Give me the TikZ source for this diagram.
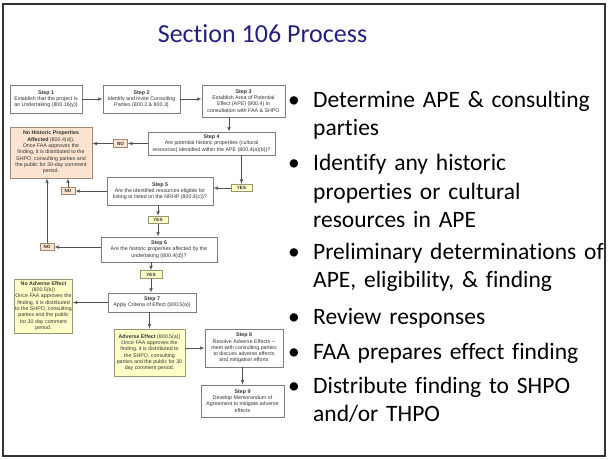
\documentclass[tikz,border=0pt]{standalone}
\usepackage{fontspec}
\setmainfont[Ligatures=NoCommon]{Carlito}
\newfontfamily\flowfont{Liberation Sans}
\usetikzlibrary{arrows, positioning}

\definecolor{titleblue}{RGB}{36,32,124}
\definecolor{stepgray}{RGB}{125,125,125}
\definecolor{linegray}{RGB}{80,80,80}
\definecolor{peach}{RGB}{252,228,208}
\definecolor{peachline}{RGB}{165,135,115}
\definecolor{paleyellow}{RGB}{255,255,200}
\definecolor{yellowline}{RGB}{150,150,115}

\begin{document}
\begin{tikzpicture}[x=1pt, y=-1pt,
            % Styles
            flow/.style={rectangle, align=center, inner sep=0.5pt, line width=0.6pt, text=black!80, font=\flowfont\fontsize{5.3}{6.3}\selectfont},
            stepbox/.style={flow, draw=stepgray, fill=white},
            nohistbox/.style={flow, draw=peachline, fill=peach},
            effectbox/.style={flow, draw=yellowline, fill=paleyellow},
            nolabel/.style={flow, draw=peachline, fill=peach, minimum width=14pt, minimum height=7.5pt, inner sep=0pt, font=\flowfont\fontsize{4.6}{5}\selectfont\bfseries},
            yeslabel/.style={flow, draw=yellowline, fill=paleyellow, minimum width=21pt, minimum height=7.5pt, inner sep=0pt, font=\flowfont\fontsize{4.6}{5}\selectfont\bfseries},
            line/.style={draw=linegray, -latex', line width=0.7pt},
            bulletdot/.style={anchor=base west, inner sep=0pt, font=\fontsize{23.5}{28.6}\selectfont},
            pointtext/.style={anchor=base west, inner sep=0pt, text width=292pt, align=left, font=\fontsize{23.5}{28.6}\selectfont}
        ]
        \useasboundingbox (0,0) rectangle (608,459);

        % Slide frame and title
        \draw[line width=2pt, black!80] (3,3.5) rectangle (605,456);
        \node[anchor=base, text=titleblue, font=\fontsize{26}{30}\selectfont] (title) at (262.5,42) {Section 106 Process};

        % Steps
        \node[stepbox, minimum width=72pt, minimum height=28pt] (step1) at (46,99) {\textbf{Step 1}\\Establish that the project is\\an Undertaking (800.16(y))};
        \node[stepbox, minimum width=77pt, minimum height=28pt] (step2) at (141.5,99) {\textbf{Step 2}\\Identify and invite Consulting\\Parties (800.2 \& 800.3)};
        \node[stepbox, minimum width=83pt, minimum height=32pt] (step3) at (243.5,101) {\textbf{Step 3}\\Establish Area of Potential\\Effect (APE) (800.4) in\\consultation with FAA \& SHPO};
        \node[stepbox, minimum width=127pt, minimum height=23pt] (step4) at (211.5,143.5) {\textbf{Step 4}\\Are potential historic properties (cultural\\resources) identified within the APE (800.4(a)(b))?};
        \node[stepbox, minimum width=106pt, minimum height=28pt] (step5) at (160,191) {\textbf{Step 5}\\Are the identified resources eligible for\\listing or listed on the NRHP (800.4(c))?};
        \node[stepbox, minimum width=116pt, minimum height=25pt] (step6) at (159,249.5) {\textbf{Step 6}\\Are the historic properties affected by the\\undertaking (800.4(d))?};
        \node[stepbox, minimum width=88pt, minimum height=19pt] (step7) at (152,302.5) {\textbf{Step 7}\\Apply Criteria of Effect (800.5(a))};
        \node[stepbox, minimum width=78pt, minimum height=38pt] (step8) at (244,348) {\textbf{Step 8}\\Resolve Adverse Effects --\\meet with consulting parties\\to discuss adverse effects\\and mitigation efforts};
        \node[stepbox, minimum width=83pt, minimum height=32pt] (step9) at (242.5,401) {\textbf{Step 9}\\Develop Memorandum of\\Agreement to mitigate adverse\\effects};

        % Findings
        \node[nohistbox, minimum width=82pt, minimum height=51pt] (nohist) at (51,152.5) {\textbf{No Historic Properties}\\\textbf{Affected} (800.4(d)).\\Once FAA approves the\\finding, it is distributed to the\\SHPO, consulting parties and\\the public for 30-day comment\\period.};
        \node[effectbox, minimum width=57pt, minimum height=54pt] (noadv) at (43.5,306) {\textbf{No Adverse Effect}\\(800.5(b))\\Once FAA approves the\\finding, it is distributed\\to the SHPO, consulting\\parties and the public\\for 30 day comment\\period.};
        \node[effectbox, minimum width=71pt, minimum height=47pt] (adv) at (149.5,352.5) {\textbf{Adverse Effect} (800.5(a))\\Once FAA approves the\\finding, it is distributed to\\the SHPO, consulting\\parties and the public for 30\\day comment period.};

        % Yes / No labels
        \node[nolabel] (no1) at (120.5,143.5) {NO};
        \node[nolabel] (no2) at (68,191) {NO};
        \node[nolabel] (no3) at (47,247) {NO};
        \node[yeslabel] (yes1) at (241.5,188) {YES};
        \node[yeslabel, minimum width=20pt] (yes2) at (158,220) {YES};
        \node[yeslabel, minimum width=22pt] (yes3) at (151,274.5) {YES};

        % Edges
        \path[line] (step1) -- (step2);
        \path[line] (step2.east) -- (step2.east -| step3.west);
        \path[line] ([xshift=-14.5pt]step3.south) -- ([xshift=-14.5pt]step3.south |- step4.north);
        \path[line] (step4) -- (no1);
        \path[line] (no1) -- (no1 -| nohist.east);
        \path[line] (step4.south -| yes1) -- (yes1);
        \path[line] (yes1) -- (yes1 -| step5.east);
        \path[line] (step5) -- (no2);
        \path[line] (no2) -- (no2 |- nohist.south);
        \path[line] (step5.south -| yes2) -- (yes2);
        \path[line] (yes2) -- (yes2 |- step6.north);
        \path[line] (step6.west |- no3) -- (no3);
        \path[line] (no3) -- (no3 |- nohist.south);
        \path[line] (step6.south -| yes3) -- (yes3);
        \path[line] (yes3) -- (yes3 |- step7.north);
        \path[line] (step7) -- (step7 -| noadv.east);
        \path[line] (step7.south -| adv) -- (adv);
        \path[line] (adv.east |- step8) -- (step8);
        \path[line] (step8.south -| step9) -- (step9);

        % Bullet points
        \foreach \y in {107,170.5,259,324,359,393}
            \node[bulletdot] (dot\y) at (288,\y) {•};
        \node[pointtext] (point1) at (313,107) {Determine APE \& consulting\\parties};
        \node[pointtext] (point2) at (313,170.5) {Identify any historic\\properties or cultural\\resources in APE};
        \node[pointtext] (point3) at (313,259) {Preliminary determinations of\\APE, eligibility, \& finding};
        \node[pointtext] (point4) at (313,324) {Review responses};
        \node[pointtext] (point5) at (313,359) {FAA prepares effect finding};
        \node[pointtext] (point6) at (313,393) {Distribute finding to SHPO\\and/or THPO};
    \end{tikzpicture}
\end{document}
